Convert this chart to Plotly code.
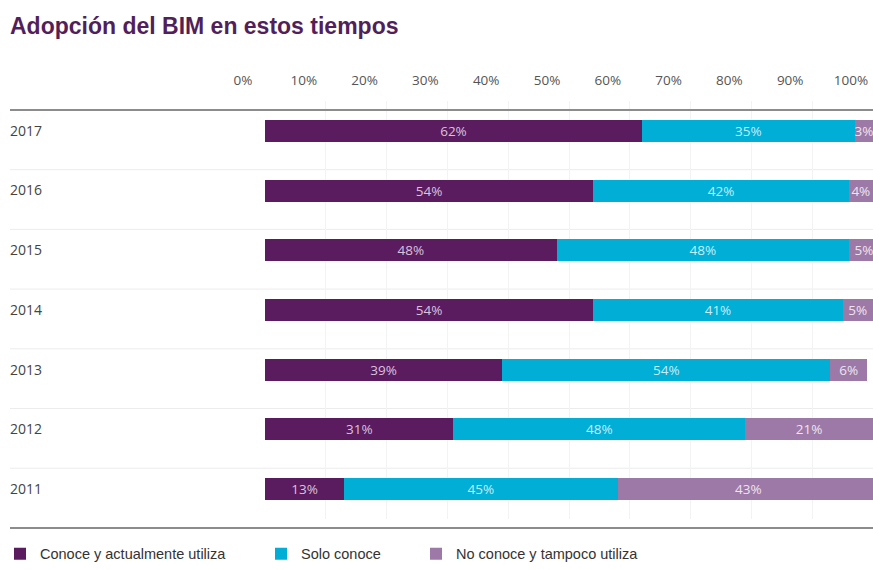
import plotly.graph_objects as go

# ---- data ----
years = ["2017", "2016", "2015", "2014", "2013", "2012", "2011"]
conoce_utiliza = [62, 54, 48, 54, 39, 31, 13]
solo_conoce = [35, 42, 48, 41, 54, 48, 45]
no_conoce = [3, 4, 5, 5, 6, 21, 43]
series_names = ["Conoce y actualmente utiliza", "Solo conoce", "No conoce y tampoco utiliza"]
tick_values = [0, 10, 20, 30, 40, 50, 60, 70, 80, 90, 100]
tick_labels = [f"{v}%" for v in tick_values]

colors = ["#5b1b5f", "#00aed6", "#9c79a6"]
text_colors = ["#d9c2dc", "#c4edf7", "#efe3f1"]

W, H = 873, 570
L, R, T, B = 265, 0, 101, 49
plot_w = W - L - R
plot_h = H - T - B

fig = go.Figure()
legend_ids = ["legend", "legend2", "legend3"]
for vals, name, col, tcol, lg in zip([conoce_utiliza, solo_conoce, no_conoce],
                                     series_names, colors, text_colors, legend_ids):
    fig.add_trace(go.Bar(
        y=years, x=vals, orientation="h", name=name,
        marker=dict(color=col, line=dict(width=0)),
        text=[f"{v}%" for v in vals], textposition="inside", textangle=0,
        insidetextanchor="middle", constraintext="none",
        textfont=dict(family="Open Sans", size=13.5, color=tcol),
        width=0.37, legend=lg, hoverinfo="skip",
    ))

def py(pix):
    return (H - B - pix) / plot_h

def px(pix):
    return (pix - L) / plot_w

shapes = []
for k in range(8):
    ypix = 110 + 60 * k
    thick = k in (0, 7)
    shapes.append(dict(type="line", xref="paper", yref="paper",
                       x0=px(10), x1=1.0, y0=py(ypix), y1=py(ypix),
                       line=dict(color="#8c8c8c" if thick else "#ececec",
                                 width=2 if thick else 1), layer="above" if thick else "below"))

legend_common = dict(orientation="h", yanchor="middle", xanchor="left",
                     font=dict(family="Liberation Sans", size=14.5, color="#333333"),
                     bgcolor="rgba(0,0,0,0)", borderwidth=0)

fig.update_layout(
    width=W, height=H,
    margin=dict(l=L, r=R, t=T, b=B),
    paper_bgcolor="white", plot_bgcolor="white",
    barmode="stack",
    title=dict(text="<b>Adopción del BIM en estos tiempos</b>",
               x=10 / W, xanchor="left", y=1 - 26 / H, yanchor="middle",
               font=dict(family="Liberation Sans", size=23, color="#521f5a")),
    xaxis=dict(side="top", range=[0, 100], tickvals=tick_values, ticktext=tick_labels,
               ticklabelshift=-22, ticklabelstandoff=12,
               tickfont=dict(family="Open Sans", size=13.5, color="#555555"),
               showgrid=True, gridcolor="#f3f3f3", gridwidth=1,
               zeroline=False, showline=False, ticks="", fixedrange=True),
    yaxis=dict(categoryorder="array", categoryarray=years, autorange="reversed",
               showgrid=False, zeroline=False, showline=False, ticks="",
               ticklabelstandoff=222,
               tickfont=dict(family="Open Sans", size=14, color="#444444"),
               fixedrange=True),
    showlegend=True,
    legend=dict(x=px(0), y=py(556), **legend_common),
    legend2=dict(x=px(261), y=py(556), **legend_common),
    legend3=dict(x=px(416), y=py(556), **legend_common),
    shapes=shapes,
)

fig.write_html("out.html")
